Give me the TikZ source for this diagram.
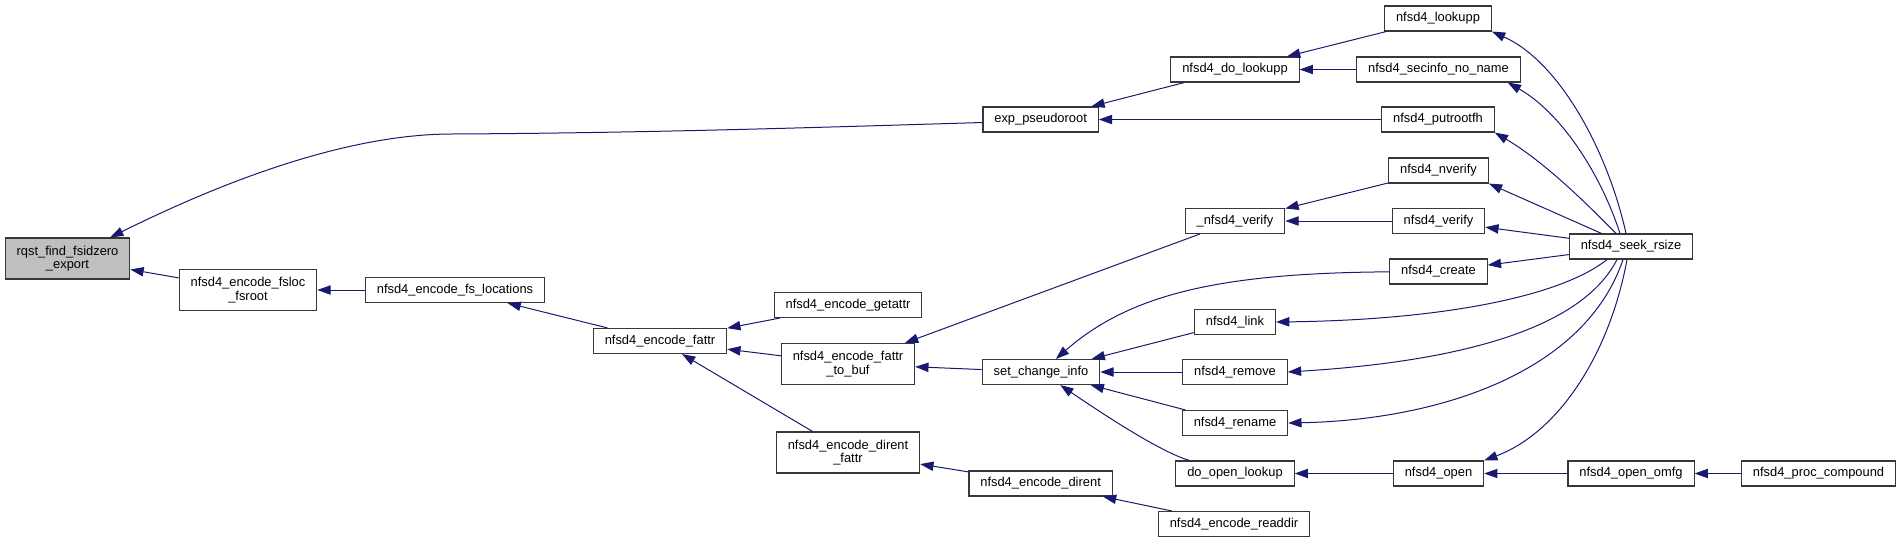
\documentclass[tikz,border=0pt]{standalone}
\usepackage{fontspec}
\setmainfont{Liberation Sans}
\usepackage{xcolor}
\usepackage{tikz}
\usetikzlibrary{arrows.meta}
\definecolor{edgeblue}{HTML}{191970}
\definecolor{boxline}{HTML}{383838}
\definecolor{boxgray}{HTML}{BFBFBF}

\begin{document}
\begin{tikzpicture}[x=1pt,y=-1pt,>={Triangle[length=13.3pt,width=9.3pt]},
 fn/.style={draw=boxline,line width=1.1pt,fill=white,align=center,inner xsep=11.4pt,inner ysep=2pt,minimum height=25pt,font=\fontsize{12.9pt}{13.5pt}\selectfont},
 fntwo/.style={fn,minimum height=41pt},
 call/.style={->,draw=edgeblue,line width=1pt}]
\useasboundingbox (0,0) rectangle (1900,544);
\node[fntwo,fill=boxgray] (rqst) at (67.5,258.5) {rqst\_find\_fsidzero\\\_export};
\node[fntwo] (fsroot) at (248,290) {nfsd4\_encode\_fsloc\\\_fsroot};
\node[fn] (fsloc) at (455,290) {nfsd4\_encode\_fs\_locations};
\node[fn] (fattr) at (660,341) {nfsd4\_encode\_fattr};
\node[fn] (getattr) at (848,305) {nfsd4\_encode\_getattr};
\node[fntwo] (tobuf) at (848,364) {nfsd4\_encode\_fattr\\\_to\_buf};
\node[fntwo] (direntfattr) at (848,452.5) {nfsd4\_encode\_dirent\\\_fattr};
\node[fn] (pseudo) at (1040.6,119.5) {exp\_pseudoroot};
\node[fn] (setinfo) at (1041,372) {set\_change\_info};
\node[fn] (dirent) at (1040.6,483.5) {nfsd4\_encode\_dirent};
\node[fn] (dolookupp) at (1235,69.5) {nfsd4\_do\_lookupp};
\node[fn] (xverify) at (1235,221) {\_nfsd4\_verify};
\node[fn] (link) at (1235,322) {nfsd4\_link};
\node[fn] (remove) at (1235,372) {nfsd4\_remove};
\node[fn] (rename) at (1235,423) {nfsd4\_rename};
\node[fn] (doopen) at (1235,473.5) {do\_open\_lookup};
\node[fn] (readdir) at (1234,524) {nfsd4\_encode\_readdir};
\node[fn] (lookupp) at (1438,18.5) {nfsd4\_lookupp};
\node[fn] (secinfo) at (1438.5,69.5) {nfsd4\_secinfo\_no\_name};
\node[fn] (putroot) at (1438,119.5) {nfsd4\_putrootfh};
\node[fn] (nverify) at (1438.5,170.5) {nfsd4\_nverify};
\node[fn] (verify) at (1438.5,221) {nfsd4\_verify};
\node[fn] (create) at (1438.5,271.5) {nfsd4\_create};
\node[fn] (open) at (1438.5,473.5) {nfsd4\_open};
\node[fn] (seek) at (1631,246.5) {nfsd4\_seek\_rsize};
\node[fn] (omfg) at (1631,473.5) {nfsd4\_open\_omfg};
\node[fn] (compound) at (1818.5,473.5) {nfsd4\_proc\_compound};
\draw[call] ([yshift=-3pt]pseudo.west) .. controls (800,128) and (640,133) .. (452,134) .. controls (330,134) and (190,198) .. (rqst);
\draw[call] (fsroot) -- (rqst);
\draw[call] (fsloc) -- (fsroot);
\draw[call] (fattr) -- (fsloc);
\draw[call] (getattr) -- (fattr);
\draw[call] (tobuf) -- (fattr);
\draw[call] (direntfattr) -- (fattr);
\draw[call] (xverify) -- (tobuf);
\draw[call] (setinfo) -- (tobuf);
\draw[call] (dirent) -- (direntfattr);
\draw[call] (readdir) -- (dirent);
\draw[call] (dolookupp) -- (pseudo);
\draw[call] (putroot) -- (pseudo);
\draw[call] (lookupp) -- (dolookupp);
\draw[call] (secinfo) -- (dolookupp);
\draw[call] (nverify) -- (xverify);
\draw[call] (verify) -- (xverify);
\draw[call] (create) .. controls (1220,273) and (1130,294) .. (setinfo);
\draw[call] (link) -- (setinfo);
\draw[call] (remove) -- (setinfo);
\draw[call] (rename) -- (setinfo);
\draw[call] (doopen) .. controls (1160,452) and (1100,412) .. (setinfo);
\draw[call] (open) -- (doopen);
\draw[call] (omfg) -- (open);
\draw[call] (compound) -- (omfg);
\draw[call] ([xshift=-5pt]seek.north) .. controls (1608,152) and (1560,62) .. (lookupp.south east);
\draw[call] ([xshift=-11pt]seek.north) .. controls (1600,172) and (1560,112) .. ([xshift=-13pt]secinfo.south east);
\draw[call] ([xshift=-15pt]seek.north) .. controls (1590,207) and (1545,162) .. (putroot.south east);
\draw[call] (seek) -- (nverify.south east);
\draw[call] (seek) -- (verify);
\draw[call] (seek) -- (create);
\draw[call] ([xshift=-24pt]seek.south) .. controls (1560,297) and (1440,320) .. (link.east);
\draw[call] ([xshift=-14pt]seek.south) .. controls (1580,332) and (1450,362) .. (remove.east);
\draw[call] ([xshift=-8pt]seek.south) .. controls (1585,372) and (1440,420) .. (rename.east);
\draw[call] ([xshift=-4pt]seek.south) .. controls (1610,352) and (1560,432) .. (open.north east);
\end{tikzpicture}
\end{document}
